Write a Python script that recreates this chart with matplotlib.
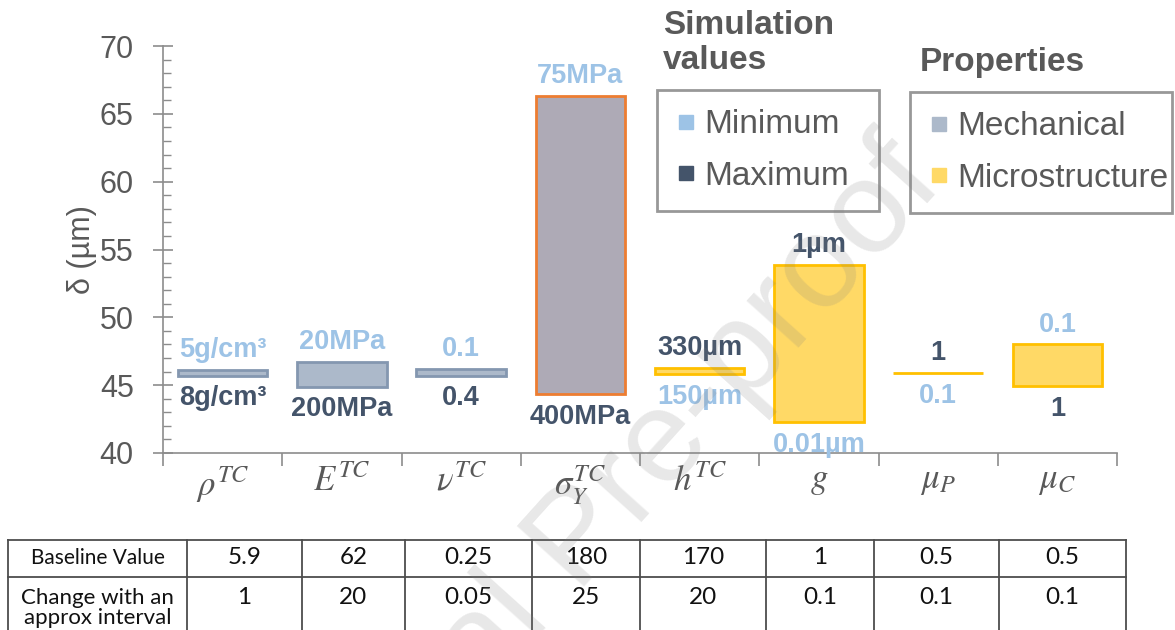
import matplotlib
matplotlib.use("Agg")
import matplotlib.pyplot as plt
from matplotlib.lines import Line2D

plt.rcParams["font.family"] = ["Liberation Sans", "DejaVu Sans"]
plt.rcParams["mathtext.fontset"] = "stix"

# deflection range per parameter (lower / upper end of each floating bar)
params = [r"$\rho^{TC}$", r"$E^{TC}$", r"$\nu^{TC}$", r"$\sigma_Y^{TC}$",
          r"$h^{TC}$", r"$g$", r"$\mu_P$", r"$\mu_C$"]
delta_low = [45.7, 44.9, 45.7, 44.35, 45.8, 42.3, 45.9, 44.95]
delta_high = [46.1, 46.7, 46.2, 66.3, 46.3, 53.85, 45.9, 48.0]
group = ["mech", "mech", "mech", "mech", "micro", "micro", "micro", "micro"]

# simulation input values written above / below each bar
top_text = ["5g/cm³", "20MPa", "0.1", "75MPa", "330µm", "1µm", "1", "0.1"]
top_is_min = [True, True, True, True, False, False, False, True]
bottom_text = ["8g/cm³", "200MPa", "0.4", "400MPa", "150µm", "0.01µm", "0.1", "1"]

# table under the chart
row_names = ["Baseline Value", "Change with an\napprox interval"]
baseline = ["5.9", "62", "0.25", "180", "170", "1", "0.5", "0.5"]
change = ["1", "20", "0.05", "25", "20", "0.1", "0.1", "0.1"]

C_MIN = "#9dc3e6"
C_MAX = "#44546a"
C_TXT = "#595959"
FACE = {"mech": "#acb9ca", "micro": "#ffd966"}
EDGE = {"mech": "#8497b0", "micro": "#ffc000"}

W, H = 1175, 630
fig = plt.figure(figsize=(W / 100, H / 100), dpi=100)
ax = fig.add_axes([163 / W, 1 - 453 / H, 954 / W, 407 / H])

x = [i + 0.5 for i in range(len(params))]
for i in range(len(params)):
    lo, hi = delta_low[i], delta_high[i]
    face, edge = FACE[group[i]], EDGE[group[i]]
    if i == 3:
        face, edge = "#aeaab6", "#ed7d31"
    ax.bar(x[i], hi - lo, bottom=lo, width=0.75, color=face,
           edgecolor=edge, linewidth=2, zorder=2)
    ax.annotate(top_text[i], (x[i], hi), xytext=(0, 5), textcoords="offset points",
                ha="center", va="bottom", fontsize=19.5, fontweight="bold",
                color=C_MIN if top_is_min[i] else C_MAX)
    ax.annotate(bottom_text[i], (x[i], lo), xytext=(0, -7), textcoords="offset points",
                ha="center", va="top", fontsize=19.5, fontweight="bold",
                color=C_MAX if top_is_min[i] else C_MIN)

ax.set_xlim(0, len(params))
ax.set_ylim(40, 70)
ax.set_yticks(range(40, 71, 5))
ax.set_yticks(range(40, 71), minor=True)
ax.set_xticks(range(len(params) + 1))
ax.set_xticklabels([])
ax.set_xticks(x, minor=True)
ax.set_xticklabels(params, minor=True, fontsize=25, color=C_TXT)
ax.tick_params(axis="y", which="major", direction="inout", length=14, width=1.2,
               color="#8c8c8c", labelsize=22, labelcolor=C_TXT, pad=14)
ax.tick_params(axis="y", which="minor", direction="in", length=6, width=1,
               color="#8c8c8c")
ax.tick_params(axis="x", which="major", direction="out", length=9, width=1.2,
               color="#8c8c8c")
ax.tick_params(axis="x", which="minor", length=0, pad=8)
for side in ("top", "right"):
    ax.spines[side].set_visible(False)
for side in ("left", "bottom"):
    ax.spines[side].set_color("#8c8c8c")
    ax.spines[side].set_linewidth(1.2)
ax.set_ylabel("δ (µm)", fontsize=22, color=C_TXT, labelpad=2)


# two framed legends with their headings above the boxes
def square(c):
    return Line2D([], [], marker="s", linestyle="none", markersize=10,
                  markerfacecolor=c, markeredgecolor=c)


leg_kw = dict(loc="upper left", mode="expand", fontsize=24, frameon=True,
              fancybox=False, borderaxespad=0, labelspacing=0.62,
              handlelength=0.6, handletextpad=0.25, borderpad=0.58,
              labelcolor=C_TXT)
l1 = fig.legend([square(C_MIN), square(C_MAX)], ["Minimum", "Maximum"],
                bbox_to_anchor=(657 / W, 1 - 214 / H, 222 / W, 124 / H), **leg_kw)
l2 = fig.legend([square(FACE["mech"]), square(FACE["micro"])],
                ["Mechanical", "Microstructure"],
                bbox_to_anchor=(910 / W, 1 - 216 / H, 262 / W, 124 / H), **leg_kw)
for lg in (l1, l2):
    lg.get_frame().set_edgecolor("#7f7f7f")
    lg.get_frame().set_linewidth(2)
fig.text(663 / W, 1 - 10 / H, "Simulation\nvalues", fontsize=24,
         fontweight="bold", color=C_TXT, va="top", linespacing=1.15)
fig.text(920 / W, 1 - 47 / H, "Properties", fontsize=24,
         fontweight="bold", color=C_TXT, va="top")

# table drawn on a pixel-unit overlay
tab = fig.add_axes([0, 0, 1, 1], zorder=-1)
tab.set_xlim(0, W)
tab.set_ylim(H, 0)
tab.axis("off")
col_edges = [8, 187, 302, 405, 532, 640, 766, 874, 999, 1126]
row_edges = [540, 577, 660]
for ye in row_edges:
    tab.plot([col_edges[0], col_edges[-1]], [ye, ye], color="#4d4d4d", lw=1.3)
for xe in col_edges:
    tab.plot([xe, xe], [row_edges[0], row_edges[-1]], color="#4d4d4d", lw=1.3)
tab.text((col_edges[0] + col_edges[1]) / 2, 558, row_names[0], ha="center",
         va="center", fontsize=15, family="Lato", color="#111111")
tab.text((col_edges[0] + col_edges[1]) / 2, 588, row_names[1], ha="center",
         va="top", fontsize=16, family="Lato", color="#111111", linespacing=1.0)
for j in range(len(baseline)):
    cx = (col_edges[j + 1] + col_edges[j + 2]) / 2
    tab.text(cx, 558, baseline[j], ha="center", va="center", fontsize=17.5,
             family="Lato", color="#111111")
    tab.text(cx, 587, change[j], ha="center", va="top", fontsize=17.5,
             family="Lato", color="#111111")

# faint diagonal watermark
fig.text(945 / W, 1 - 185 / H, "Journal Pre-proof", fontsize=95,
         color="#808080", alpha=0.18, rotation=48, rotation_mode="anchor",
         ha="right", va="baseline", zorder=10)

fig.savefig("out.png", dpi=100)
